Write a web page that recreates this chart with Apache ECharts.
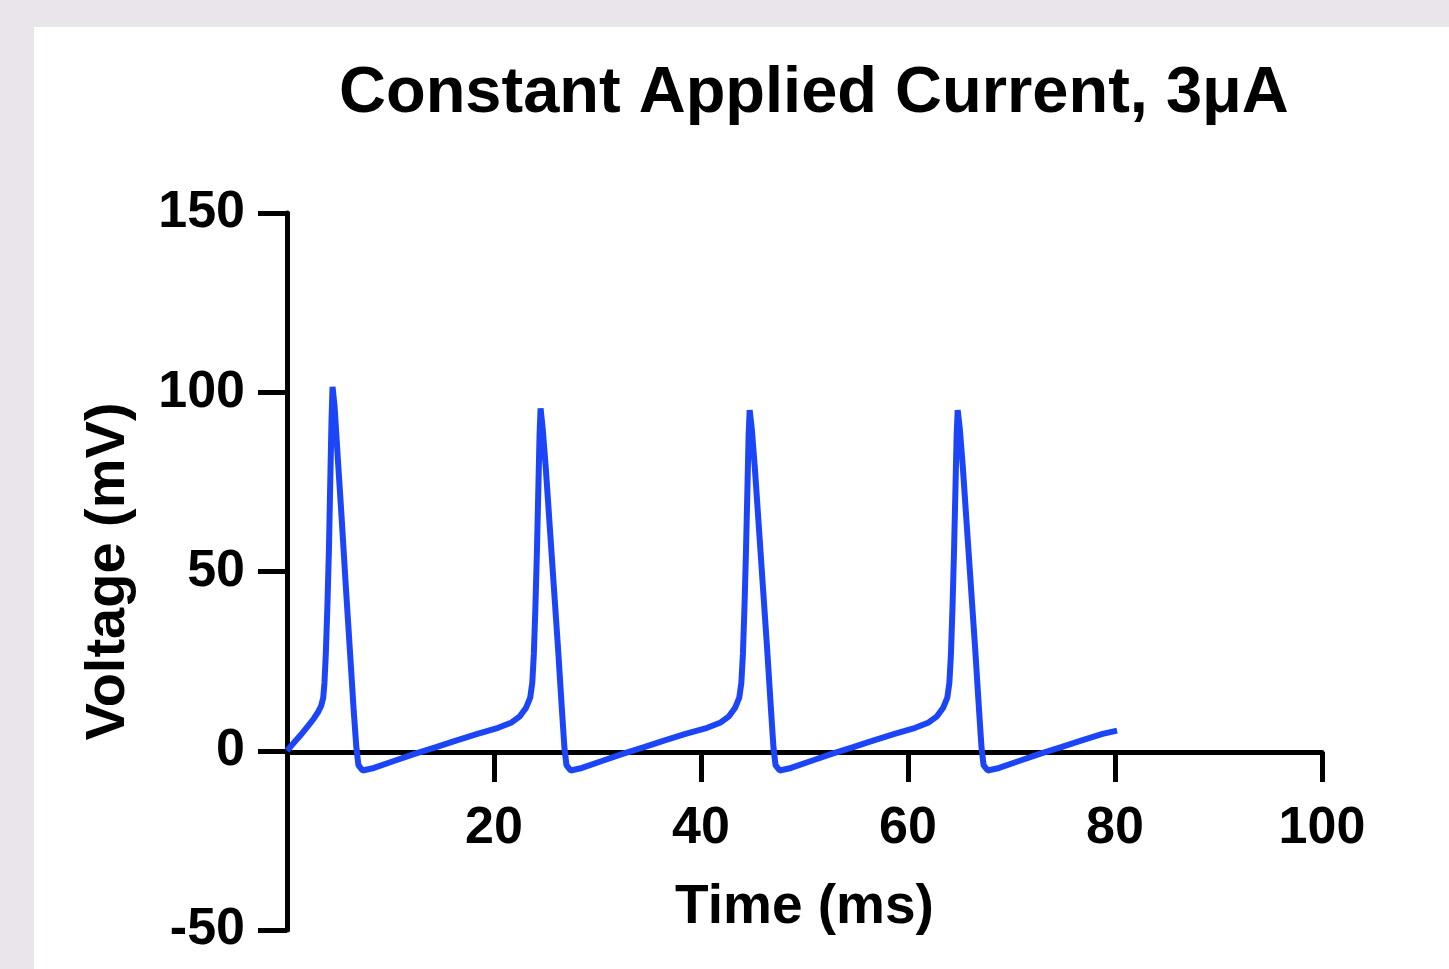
<!DOCTYPE html>
<html lang="en">
    <head>
        <meta charset="utf-8" />
        <title>Constant Applied Current</title>
        <script src="https://cdn.jsdelivr.net/npm/echarts@6/dist/echarts.min.js"></script>
        <style>
            html, body { margin: 0; padding: 0; background: #e9e5eb; overflow: hidden; }
            #chart { position: absolute; left: 34px; top: 27px; width: 1415px; height: 942px; background: #ffffff; }
        </style>
    </head>
    <body>
    <div id="chart"></div>
    <script type="text/javascript">
        // time (ms) and membrane voltage (mV)
        const timeMs = [
            0, 0.6, 1.3, 2.0, 2.6, 3.0, 3.3, 3.5, 3.62, 3.75, 3.9, 4.05, 4.2, 4.3, 4.4,
            4.6, 4.9, 5.3, 5.7, 6.1, 6.45, 6.7, 6.9, 7.3,
            8.4, 10.4, 12.4, 14.4, 16.4, 18.4, 20.4, 21.7, 22.5, 23.1, 23.5, 23.7, 23.85, 24.0, 24.15, 24.3, 24.4, 24.5,
            24.7, 25.0, 25.4, 25.8, 26.2, 26.55, 26.8, 27.0, 27.4,
            28.5, 30.5, 32.5, 34.5, 36.5, 38.5, 40.6, 41.9, 42.7, 43.3, 43.7, 43.9, 44.05, 44.2, 44.35, 44.5, 44.6, 44.7,
            44.9, 45.2, 45.6, 46.0, 46.4, 46.75, 47.0, 47.2, 47.6,
            48.7, 50.7, 52.7, 54.7, 56.7, 58.7, 60.7, 62.0, 62.8, 63.4, 63.8, 64.0, 64.15, 64.3, 64.45, 64.6, 64.7, 64.8,
            65.0, 65.3, 65.7, 66.1, 66.5, 66.85, 67.1, 67.3, 67.7,
            68.8, 70.8, 72.8, 74.8, 76.8, 78.8, 80.2
        ];
        const voltageMv = [
            0, 2, 4.3, 6.8, 9, 10.8, 12.5, 14.8, 19, 27, 40, 56, 78, 92, 101.5,
            96, 82, 64, 45, 27, 11, 1, -4, -5.5,
            -4.8, -2.8, -0.8, 1.0, 2.9, 4.7, 6.4, 7.9, 9.6, 12, 14.8, 19, 27, 40, 56, 75, 88, 95.5,
            90, 79, 62, 45, 28, 12, 1, -4, -5.5,
            -4.8, -2.8, -0.8, 1.0, 2.9, 4.7, 6.4, 7.9, 9.6, 12, 14.8, 19, 27, 40, 56, 75, 88, 95,
            90, 79, 62, 45, 28, 12, 1, -4, -5.5,
            -4.8, -2.8, -0.8, 1.0, 2.9, 4.7, 6.4, 7.9, 9.6, 12, 14.8, 19, 27, 40, 56, 75, 88, 95,
            90, 79, 62, 45, 28, 12, 1, -4, -5.5,
            -4.8, -2.8, -0.8, 1.0, 2.9, 4.7, 5.6
        ];

        const trace = timeMs.map(function (t, i) { return [t, voltageMv[i]]; });

        const font = '"Liberation Sans", Arial, Helvetica, sans-serif';
        const myChart = echarts.init(document.getElementById('chart'));
        const option = {
            animation: false,
            title: {
                text: 'Constant Applied Current, 3\u03bcA',
                left: 300,
                top: 30,
                textStyle: { fontFamily: font, fontWeight: 'bold', fontSize: 65, color: '#000' }
            },
            grid: { left: 253, top: 186, right: 127, bottom: 39, containLabel: false, outerBoundsMode: 'none' },
            xAxis: {
                type: 'value',
                min: 0, max: 100, interval: 20,
                // the x axis sits on V = 0 (grid bottom is V = -50, 178px lower)
                offset: -178,
                name: 'Time (ms)',
                nameLocation: 'middle',
                nameGap: 128,
                nameMoveOverlap: false,
                nameTextStyle: { fontFamily: font, fontWeight: 'bold', fontSize: 55, color: '#000' },
                axisLine: { onZero: false, lineStyle: { color: '#000', width: 5 } },
                axisTick: { show: true, length: 30, lineStyle: { color: '#000', width: 5 } },
                axisLabel: {
                    margin: 51,
                    fontFamily: font, fontWeight: 'bold', fontSize: 52, color: '#000',
                    formatter: function (v) { return v === 0 ? '' : String(v); }
                },
                splitLine: { show: false }
            },
            yAxis: {
                type: 'value',
                min: -50, max: 150, interval: 50,
                name: 'Voltage (mV)',
                nameLocation: 'middle',
                nameGap: 150,
                nameMoveOverlap: false,
                nameTextStyle: { fontFamily: font, fontWeight: 'bold', fontSize: 56, color: '#000' },
                axisLine: { show: true, onZero: false, lineStyle: { color: '#000', width: 5 } },
                axisTick: { show: true, length: 29, lineStyle: { color: '#000', width: 5 } },
                axisLabel: { margin: 42, fontFamily: font, fontWeight: 'bold', fontSize: 52, color: '#000' },
                splitLine: { show: false }
            },
            series: [{
                type: 'line',
                data: trace,
                showSymbol: false,
                lineStyle: { color: '#1c45f8', width: 6 },
                itemStyle: { color: '#1c45f8' }
            }]
        };
        myChart.setOption(option);
    </script>
    </body>
</html>
